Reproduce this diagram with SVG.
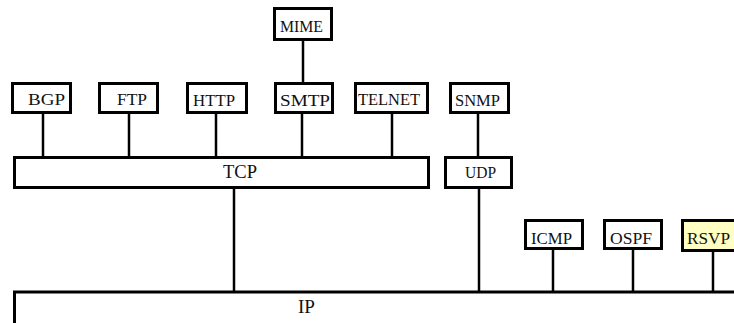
<svg xmlns="http://www.w3.org/2000/svg" width="734" height="323" viewBox="0 0 734 323">
<style>
.box{fill:#fff;stroke:#000;stroke-width:3}
.hl{fill:#ffffc2}
.ln{stroke:#000;stroke-width:2.5;fill:none}
text{font-family:"Liberation Serif","Times New Roman",serif;fill:#111}
.s{font-size:16px}
.b{font-size:19px}
</style>
<rect width="734" height="323" fill="#fff"/>
<g id="connectors">
<line class="ln" x1="303" y1="41" x2="303" y2="82"/>
<line class="ln" x1="43" y1="114" x2="43" y2="156"/>
<line class="ln" x1="129" y1="114" x2="129" y2="156"/>
<line class="ln" x1="216" y1="114" x2="216" y2="156"/>
<line class="ln" x1="302" y1="114" x2="302" y2="156"/>
<line class="ln" x1="392" y1="114" x2="392" y2="156"/>
<line class="ln" x1="478" y1="114" x2="478" y2="156"/>
<line class="ln" x1="234" y1="189" x2="234" y2="291"/>
<line class="ln" x1="479" y1="189" x2="479" y2="291"/>
<line class="ln" x1="553" y1="250" x2="553" y2="291"/>
<line class="ln" x1="633" y1="250" x2="633" y2="291"/>
<line class="ln" x1="713" y1="252" x2="713" y2="291"/>
</g>
<g id="MIME"><rect class="box" x="274.5" y="8.5" width="57" height="31"/><text class="s" x="280" y="32" textLength="43" lengthAdjust="spacingAndGlyphs">MIME</text></g>
<g id="BGP"><rect class="box" x="12.5" y="83.5" width="58" height="29"/><text class="s" x="28" y="105" textLength="37" lengthAdjust="spacingAndGlyphs">BGP</text></g>
<g id="FTP"><rect class="box" x="99.5" y="83.5" width="58" height="29"/><text class="s" x="117" y="105" textLength="30" lengthAdjust="spacingAndGlyphs">FTP</text></g>
<g id="HTTP"><rect class="box" x="187.5" y="83.5" width="59" height="29"/><text class="s" x="193" y="106" textLength="42" lengthAdjust="spacingAndGlyphs">HTTP</text></g>
<g id="SMTP"><rect class="box" x="275.5" y="83.5" width="57" height="29"/><text class="s" x="280" y="106" textLength="50" lengthAdjust="spacingAndGlyphs">SMTP</text></g>
<g id="TELNET"><rect class="box" x="355.5" y="83.5" width="72" height="29"/><text class="s" x="358" y="105" textLength="62" lengthAdjust="spacingAndGlyphs">TELNET</text></g>
<g id="SNMP"><rect class="box" x="450.5" y="83.5" width="58" height="29"/><text class="s" x="455" y="106" textLength="45" lengthAdjust="spacingAndGlyphs">SNMP</text></g>
<g id="TCP"><rect class="box" x="14.5" y="157.5" width="414" height="30"/><text class="b" x="223" y="178" textLength="34" lengthAdjust="spacingAndGlyphs">TCP</text></g>
<g id="UDP"><rect class="box" x="445.5" y="157.5" width="66" height="30"/><text class="s" x="465" y="178" textLength="31" lengthAdjust="spacingAndGlyphs">UDP</text></g>
<g id="ICMP"><rect class="box" x="525.5" y="220.5" width="57" height="28"/><text class="s" x="531" y="244" textLength="41" lengthAdjust="spacingAndGlyphs">ICMP</text></g>
<g id="OSPF"><rect class="box" x="604.5" y="220.5" width="57" height="28"/><text class="s" x="610" y="244" textLength="42" lengthAdjust="spacingAndGlyphs">OSPF</text></g>
<g id="RSVP"><rect class="box hl" x="682.5" y="220.5" width="60" height="30"/><text class="s" x="687" y="244" textLength="43" lengthAdjust="spacingAndGlyphs">RSVP</text></g>
<g id="IP"><rect class="box" x="14.5" y="292" width="740" height="60"/><text class="b" x="298" y="313" textLength="17" lengthAdjust="spacingAndGlyphs">IP</text></g>
</svg>
